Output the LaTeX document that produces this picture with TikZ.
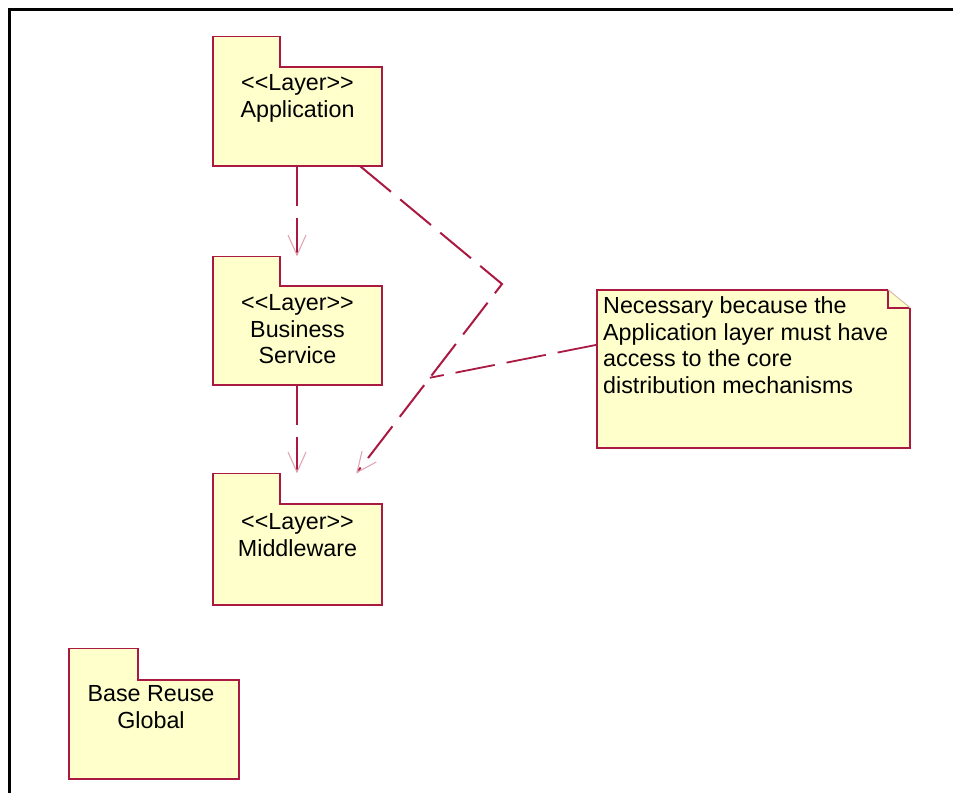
\documentclass[tikz,border=0pt]{standalone}
\usepackage{fontspec}
\setmainfont{Liberation Sans}
\usetikzlibrary{arrows.meta,calc}
\definecolor{umlred}{RGB}{170,25,65}
\definecolor{umlfill}{RGB}{255,255,204}
\definecolor{tippink}{RGB}{225,165,180}
\definecolor{foldtan}{RGB}{215,190,170}
\newcommand\stlayer{<\kern0pt<Layer>\kern0pt>}
\newcommand\pkgoutline[2]{%
  \filldraw[pkgline] (#1.south west) -- (#2.north west) -- (#2.north east) -- (#2.south east)
    -- (#1.north east) -- (#1.south east) -- cycle;}
\tikzset{
  pkgline/.style={draw=umlred, fill=umlfill, line width=1.7pt, line join=miter},
  pkgbody/.style={minimum width=169pt, minimum height=99pt, inner sep=0pt},
  pkgtab/.style={minimum width=67pt, minimum height=30pt, inner sep=0pt, anchor=south west},
  pkgtext/.style={font=\fontsize{23.3}{26.5}\selectfont, align=center, inner sep=0pt, anchor=north},
  notetext/.style={font=\fontsize{23.3}{26.5}\selectfont, align=left, inner sep=0pt, anchor=north west},
  dep/.style={draw=umlred, line width=2pt, dash pattern=on 40pt off 12pt,
    -{Straight Barb[length=20pt,width=18pt,color=tippink,line width=1.1pt]}},
  link/.style={draw=umlred, line width=1.8pt, dash pattern=on 40pt off 12pt},
  frameline/.style={draw=black, line width=3pt}
}
\begin{document}
\begin{tikzpicture}[x=1pt,y=-1pt]
\useasboundingbox (0,0) rectangle (953,793);
\draw[frameline] (9.5,793) -- (9.5,9.5) -- (953,9.5);

% packages
\node[pkgbody] (app) at (297.5,116.5) {};
\node[pkgtab] (apptab) at (app.north west) {};
\pkgoutline{app}{apptab}
\node[pkgtext] (appt) at (297.5,74.5) {\stlayer\\Application};

\node[pkgbody] (bs) at (297.5,335.5) {};
\node[pkgtab, minimum height=29pt] (bstab) at (bs.north west) {};
\pkgoutline{bs}{bstab}
\node[pkgtext] (bst) at (297.5,294.5) {\stlayer\\Business\\Service};

\node[pkgbody, minimum height=101pt] (mw) at (297.5,554.5) {};
\node[pkgtab] (mwtab) at (mw.north west) {};
\pkgoutline{mw}{mwtab}
\node[pkgtext] (mwt) at (297.5,513.5) {\stlayer\\Middleware};

\node[pkgbody, minimum width=170pt] (brg) at (154,729.5) {};
\node[pkgtab, minimum width=69pt, minimum height=31pt] (brgtab) at (brg.north west) {};
\pkgoutline{brg}{brgtab}
\node[pkgtext] (brgt) at (151,685.5) {Base Reuse\\Global};

% note
\node[minimum width=313pt, minimum height=158pt, inner sep=0pt] (note) at (753.5,369) {};
\coordinate (cutA) at ($(note.north east)+(-22,0)$);
\coordinate (cutB) at ($(note.north east)+(0,18)$);
\coordinate (cutC) at ($(note.north east)+(-22,18)$);
\fill[umlfill] (note.north west) -- (cutA) -- (cutB) -- (note.south east) -- (note.south west) -- cycle;
\draw[umlred, line width=1.7pt] (cutA) -- (note.north west) -- (note.south west) -- (note.south east) -- (cutB);
\draw[umlred, line width=1.7pt] (cutA) -- (cutC) -- (cutB);
\draw[foldtan, line width=1pt] (cutA) -- (cutB);
\node[notetext] (notet) at (603,296.5) {Necessary because the\\Application layer must have\\access to the core\\distribution mechanisms};

% connectors
\coordinate (a1) at ($(app.south)+(-0.5,0)$);
\coordinate (b1) at ($(bs.south)+(-0.5,0)$);
\draw[dep] (a1) -- (a1 |- bstab.north);
\draw[dep] (b1) -- (b1 |- mwtab.north);
\coordinate (cstart) at ($(app.south east)+(-22,0)$);
\coordinate (bend) at (502,284);
\coordinate (cx) at ($(mw.north east)+(-26,0)$);
\coordinate (cend) at (cx |- mwtab.north);
\draw[dep] (cstart) -- (bend) -- (cend);
\draw[link] ($(note.north west)+(0,55)$) -- ($(bend)!0.495!(cend)$);
\end{tikzpicture}
\end{document}
